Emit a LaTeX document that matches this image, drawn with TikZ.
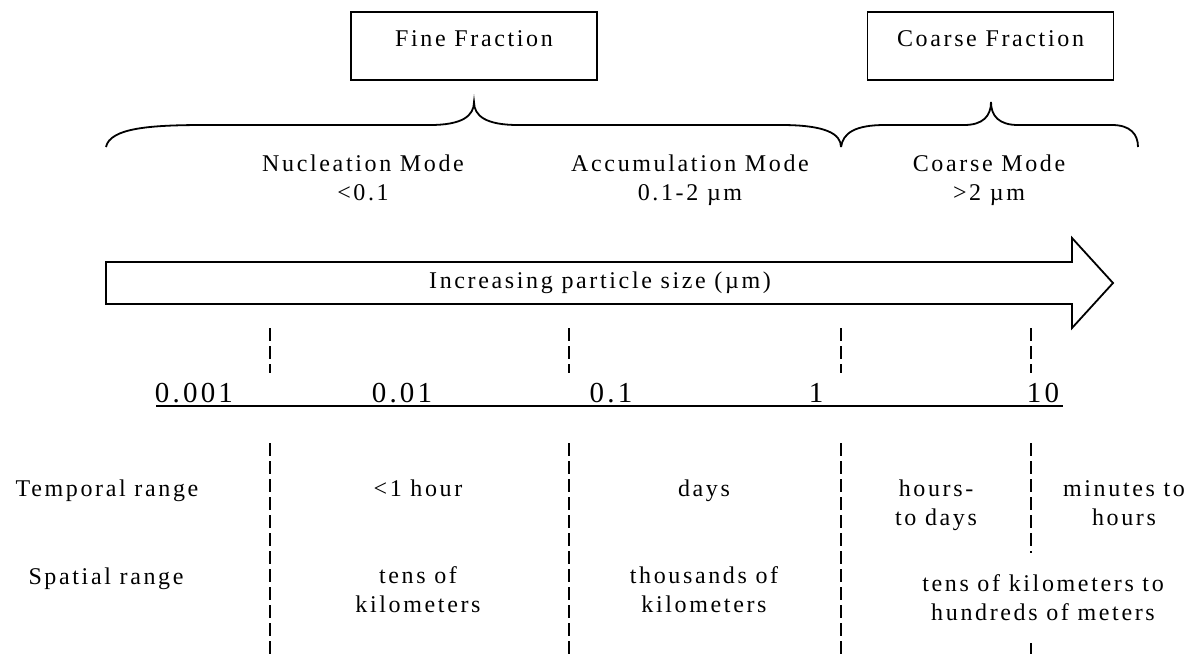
\documentclass[tikz,border=0pt]{standalone}
\usepackage{fontspec}
\setmainfont{Liberation Serif}[LetterSpace=11]
\usepackage{tikz}

\begin{document}
\begin{tikzpicture}[x=1pt,y=-1pt,line width=1.8pt,
    every node/.style={inner sep=0pt,align=center,font=\fontsize{24}{29}\selectfont},
    fracbox/.style={draw,minimum width=246pt,minimum height=68pt,text height=17pt,text depth=17pt},
    sizenum/.style={anchor=base,font=\fontsize{29}{34}\selectfont},
    rowtext/.style={anchor=base},
    divider/.style={line width=1.6pt,dash pattern=on 13pt off 5pt}]
  \useasboundingbox (0,0) rectangle (1193,654);
  \node[fracbox] (fine) at (474,46) {Fine Fraction};
  \node[fracbox] (coarse) at (990.5,46) {Coarse Fraction};
  \draw (106,147) .. controls (110,128) and (150,125) .. (205,125) -- (430,125)
    .. controls (462,125) and (474,116) .. (474,102)
    .. controls (474,116) and (486,125) .. (518,125) -- (781,125)
    .. controls (826,125) and (841,134) .. (841,147);
  \draw (841,147) .. controls (843,133) and (855,125) .. (885,125) -- (964,125)
    .. controls (983,125) and (991,116) .. (991,102)
    .. controls (991,116) and (999,125) .. (1018,125) -- (1112,125)
    .. controls (1130,125) and (1138,134) .. (1138,147);
  \node[rowtext] (nucleation) at (363,200) {Nucleation Mode\\<0.1};
  \node[rowtext] (accumulation) at (690,200) {Accumulation Mode\\0.1-2 µm};
  \node[rowtext] (coarsemode) at (989,200) {Coarse Mode\\>2 µm};
  \draw (106,262) -- (1072,262) -- (1072,238) -- (1113,283) -- (1072,328)
    -- (1072,304) -- (106,304) -- cycle;
  \node (sizelabel) at (600,283) {Increasing particle size (µm)};
  \draw[divider] (270,328) -- (270,373);
  \draw[divider] (569,328) -- (569,373);
  \draw[divider] (841,328) -- (841,373);
  \draw[divider] (1031,328) -- (1031,373);
  \node[sizenum] (n0001) at (194,402) {0.001};
  \node[sizenum] (n001) at (402,402) {0.01};
  \node[sizenum] (n01) at (611,402) {0.1};
  \node[sizenum] (n1) at (816,402) {1};
  \node[sizenum] (n10) at (1043,402) {10};
  \draw[line width=2.3pt] (156,406) -- (1063,406);
  \draw[divider] (270,443) -- (270,654);
  \draw[divider] (569,443) -- (569,654);
  \draw[divider] (841,443) -- (841,654);
  \draw[divider] (1031,443) -- (1031,553);
  \draw[divider] (1031,643) -- (1031,654);
  \node[rowtext] (temporal) at (107,496) {Temporal range};
  \node[rowtext] (spatial) at (106,584) {Spatial range};
  \node[rowtext] (hour) at (418,496) {<1 hour};
  \node[rowtext] (days) at (704,496) {days};
  \node[rowtext] (hoursdays) at (936,525) {hours-\\to days};
  \node[rowtext] (minutes) at (1124,525) {minutes to\\hours};
  \node[rowtext] (tenskm) at (418,612) {tens of\\kilometers};
  \node[rowtext] (thousandskm) at (704,612) {thousands of\\kilometers};
  \node[rowtext] (tensmeters) at (1043,620) {tens of kilometers to\\hundreds of meters};
\end{tikzpicture}
\end{document}
